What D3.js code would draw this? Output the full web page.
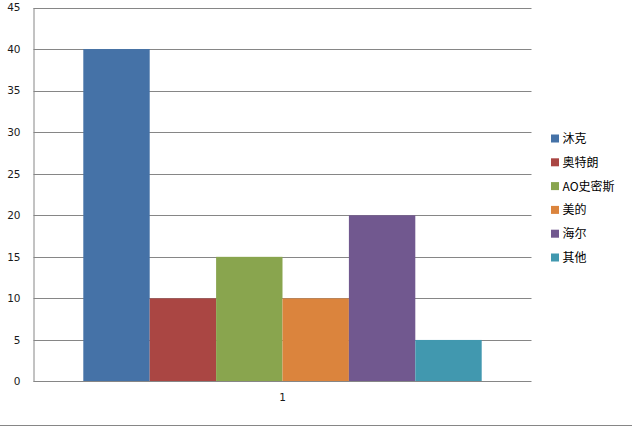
<!DOCTYPE html>
<html><head><meta charset="utf-8">
<script src="https://cdn.jsdelivr.net/npm/d3@7"></script>
<style>body{margin:0;background:#fff}svg{display:block}</style>
</head><body>
<svg id="c" width="632" height="426"></svg>
<script>
const categories = ["1"];
const seriesNames = ["沐克","奥特朗","AO史密斯","美的","海尔","其他"];
const seriesValues = [40,10,15,10,20,5];
const seriesColors = ["#4572A7","#AA4643","#89A54E","#DB843D","#71588F","#4198AF"];
const yTicks = [0,5,10,15,20,25,30,35,40,45];

(function(){
const svg = d3.select("#c");
const pl = 33.5, pr = 531.5, pt = 7.5, pb = 381.5;
const y = d3.scaleLinear().domain([0,45]).range([pb, pt]);
const x0 = d3.scaleBand().domain(categories).range([pl, pr]).paddingInner(0).paddingOuter(0);
const bw = x0.bandwidth() / 7.5;
const cx = x0(categories[0]) + x0.bandwidth()/2;
const x1 = d3.scaleBand().domain(seriesNames).range([cx - 3*bw, cx + 3*bw]);

svg.append("g").selectAll("line").data(yTicks.filter(d=>d>0)).join("line")
  .attr("x1", pl).attr("x2", pr)
  .attr("y1", d=>Math.round(y(d))+0.5).attr("y2", d=>Math.round(y(d))+0.5)
  .attr("stroke","#868686").attr("stroke-width",1);

svg.append("g").selectAll("rect").data(seriesValues).join("rect")
  .attr("x", (d,i)=>x1(seriesNames[i]))
  .attr("width", x1.bandwidth())
  .attr("y", d=>y(d))
  .attr("height", d=>y(0)-y(d))
  .attr("fill", (d,i)=>seriesColors[i]);

const yAxis = d3.axisLeft(y).tickValues(yTicks).tickSize(0).tickPadding(13);
const ga = svg.append("g").attr("transform",`translate(${pl},0)`).call(yAxis);
ga.select(".domain").attr("stroke","#868686");
ga.selectAll("text").attr("font-family","Verdana, 'DejaVu Sans', sans-serif").attr("font-size","10.5px").attr("fill","#1a1a1a");

const xAxis = d3.axisBottom(x0).tickSize(0).tickPadding(12);
const gx = svg.append("g").attr("transform",`translate(0,${pb})`).call(xAxis);
gx.select(".domain").attr("stroke","#868686").attr("d",`M${pl},0H${pr}`);
gx.selectAll("text").attr("font-family","Verdana, 'DejaVu Sans', sans-serif").attr("font-size","10.5px").attr("fill","#1a1a1a");

svg.append("line").attr("x1",0).attr("x2",632).attr("y1",425.5).attr("y2",425.5).attr("stroke","#868686");

const lg = svg.append("g").selectAll("g").data(seriesNames).join("g")
  .attr("transform",(d,i)=>`translate(551,${138.5 + i*23.8})`);
lg.append("rect").attr("x",0).attr("y",-4).attr("width",8).attr("height",8).attr("fill",(d,i)=>seriesColors[i]);
lg.append("text").attr("x",11.5).attr("y",4.5).text(d=>d)
  .attr("font-family","'Noto Sans CJK SC', sans-serif").attr("font-size","12px").attr("fill","#000");
})();
</script>
</body></html>
